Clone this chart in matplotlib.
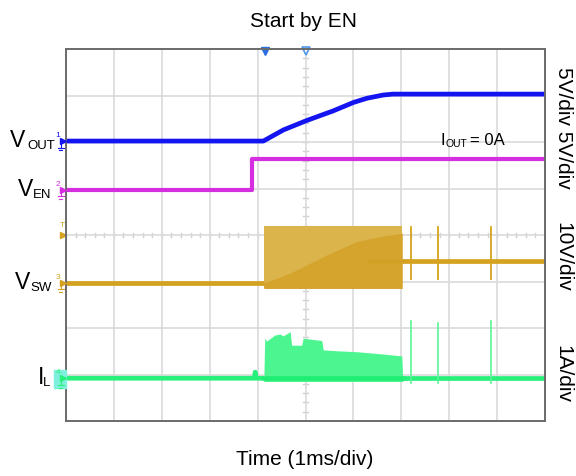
import numpy as np
import matplotlib.pyplot as plt
from matplotlib.patches import Rectangle

plt.rcParams['font.family'] = ['Liberation Sans', 'DejaVu Sans']

# scope capture: time in ms (1 ms/div), level in divisions from bottom
vout_t = [0, 4.12, 4.54, 5.02, 5.58, 6.00, 6.28, 6.62, 6.83, 10]
vout_v = [6.02, 6.02, 6.26, 6.46, 6.67, 6.85, 6.94, 7.01, 7.03, 7.03]

ven_t = [0, 3.88, 3.88, 10]
ven_v = [4.97, 4.97, 5.63, 5.63]

vsw_pre_t = [0, 4.13]
vsw_pre_v = [2.97, 2.97]
vsw_burst_t = [4.13, 7.02]
vsw_burst_hi = [4.20, 4.20]
vsw_burst_lo = [2.85, 2.85]
vsw_avg_t = [4.13, 4.68, 5.44, 6.07, 6.62, 7.02]
vsw_avg_v = [2.97, 3.18, 3.57, 3.86, 3.98, 4.04]
vsw_post_t = [7.02, 10]
vsw_post_v = [3.44, 3.44]
vsw_spike_t = [7.20, 7.77, 8.87]
vsw_spike_lo = 3.05
vsw_spike_hi = 4.18

il_base_t = [0, 3.93, 3.95, 3.97, 4.13]
il_base_v = [0.92, 0.92, 1.05, 0.92, 0.92]
il_top_t = [4.13, 4.15, 4.19, 4.36, 4.47, 4.53, 4.68, 4.71, 4.92, 4.95,
            5.34, 5.37, 5.65, 6.07, 6.62, 7.01, 7.03]
il_top_v = [0.92, 1.78, 1.72, 1.85, 1.87, 1.83, 1.92, 1.63, 1.63, 1.78,
            1.73, 1.53, 1.51, 1.49, 1.44, 1.40, 0.92]
il_bot_v = 0.85
il_post_t = [7.03, 10]
il_post_v = [0.92, 0.92]
il_spike_t = [7.20, 7.77, 8.87]
il_spike_hi = [2.16, 2.11, 2.14]
il_spike_lo = 0.82

trig_t = 4.15

# channel: number, ground level, colour, label, sub, label x, sub x
channels = [
    ("1", 6.02, "#1414f0", "V", "OUT", 10, 27),
    ("2", 4.97, "#d42ee0", "V", "EN", 18, 33),
    ("3", 2.97, "#d4a21e", "V", "SW", 15, 30),
    ("4", 0.92, "#28f07a", "I", "L", 38, 43),
]
scales = [("5V/div 5V/div", 67), ("10V/div", 222), ("1A/div", 345)]

W, H = 576, 476
c_out, c_en, c_sw, c_il = [c[2] for c in channels]

fig = plt.figure(figsize=(W / 100, H / 100), dpi=100)
ax = fig.add_axes([66 / W, 1 - 421 / H, 479 / W, 372 / H])
ax.set_xlim(0, 10)
ax.set_ylim(0, 8)
ax.set_xticks(range(11))
ax.set_yticks(range(9))
ax.tick_params(length=0, labelbottom=False, labelleft=False)
ax.set_axisbelow(True)
ax.grid(True, color="#dadada", lw=1.2)
for s in ax.spines.values():
    s.set_color("#6a6a6a")
    s.set_linewidth(1.4)

# centre crosshair minor ticks
for xm in np.arange(0, 10.01, 0.2):
    ax.plot([xm, xm], [3.95, 4.05], color="#cfcfcf", lw=1, zorder=0.5)
for ym in np.arange(0, 8.01, 0.2):
    ax.plot([4.95, 5.05], [ym, ym], color="#cfcfcf", lw=1, zorder=0.5)

lw = 3.4
# V_OUT
ax.plot(vout_t, vout_v, color=c_out, lw=lw, solid_capstyle="butt")
# EN
ax.plot(ven_t, ven_v, color=c_en, lw=3.0, solid_capstyle="butt")
ax.plot([ven_t[1], ven_t[1]], [ven_v[1], ven_v[2]], color=c_en, lw=1.2)

# V_SW
ax.plot(vsw_pre_t, vsw_pre_v, color=c_sw, lw=lw, solid_capstyle="butt")
ax.fill_between(vsw_burst_t, vsw_burst_lo, vsw_burst_hi, color="#dcb44c", lw=0)
ax.fill_between(vsw_avg_t, vsw_burst_lo[0], vsw_avg_v, color="#d4a42c", lw=0)
ax.plot(vsw_post_t, vsw_post_v, color=c_sw, lw=lw, solid_capstyle="butt")
ax.plot([vsw_burst_t[0] + 2.2, vsw_burst_t[1]], [vsw_post_v[0], vsw_post_v[0]],
        color="#cf9c1c", lw=2.5, alpha=0.6)
for ts in vsw_spike_t:
    ax.plot([ts, ts], [vsw_spike_lo, vsw_spike_hi], color=c_sw, lw=1.3)

# I_L
ax.plot(il_base_t, il_base_v, color=c_il, lw=lw, solid_capstyle="butt")
ax.fill_between(il_top_t, il_bot_v, il_top_v, color="#4cf590", lw=0)
ax.plot([il_top_t[0], il_top_t[-1]], [il_base_v[0]] * 2, color="#20ee74", lw=lw)
ax.plot(il_post_t, il_post_v, color=c_il, lw=lw, solid_capstyle="butt")
for ts, hi in zip(il_spike_t, il_spike_hi):
    ax.plot([ts, ts], [il_spike_lo, hi], color="#5af598", lw=1.2)

# trigger markers on top edge
ax.plot(trig_t, 7.96, marker="v", ms=6, color="#2a6ee0", clip_on=False)
ax.plot(5, 7.96, marker="v", ms=6, mfc="white", mec="#4f95e8", mew=1.2, clip_on=False)

# channel ground markers at left edge
for num, lev, col, lab, sub, lx, sx in channels:
    if num == "4":
        ax.add_patch(Rectangle((-0.25, lev - 0.2), 0.25, 0.38, color="#7ff0dc",
                               clip_on=False, zorder=3))
    ax.plot(-0.06, lev, marker=">", ms=4, color=col, clip_on=False, zorder=4)
    ax.text(-0.17, lev + 0.04, num, color=col, fontsize=6, ha="center",
            va="bottom", clip_on=False, zorder=4)
    ax.plot([-0.11, -0.11], [lev, lev - 0.14], color=col, lw=0.8, clip_on=False, zorder=4)
    ax.plot([-0.17, -0.05], [lev - 0.14, lev - 0.14], color=col, lw=0.8, clip_on=False, zorder=4)
    ax.plot([-0.14, -0.08], [lev - 0.2, lev - 0.2], color=col, lw=0.8, clip_on=False, zorder=4)
    base = 421 - lev * 46.5 + 6
    fig.text(lx / W, 1 - base / H, lab, fontsize=16.5, va="baseline", ha="left")
    fig.text(sx / W, 1 - (base + 2) / H, sub, fontsize=9.5, va="baseline", ha="left")

# trigger level marker
ax.text(-0.08, 4.12, "T", color=c_sw, fontsize=6, ha="center", va="bottom", clip_on=False)
ax.plot(-0.06, 4.0, marker=">", ms=4, color=c_sw, clip_on=False)

# output current note
fig.text(441 / W, 1 - 145 / H, "I", fontsize=12, va="baseline")
fig.text(446 / W, 1 - 147 / H, "OUT", fontsize=7.5, va="baseline")
fig.text(470 / W, 1 - 145 / H, "= 0A", fontsize=12, va="baseline")

for txt, top in scales:
    fig.text(563 / W, 1 - top / H, txt, fontsize=15, rotation=-90,
             ha="center", va="top")

fig.text(304 / W, 1 - 27 / H, "Start by EN", fontsize=15, ha="center", va="baseline")
fig.text(305 / W, 1 - 465 / H, "Time (1ms/div)", fontsize=15, ha="center", va="baseline")

fig.savefig("out.png", dpi=100)
